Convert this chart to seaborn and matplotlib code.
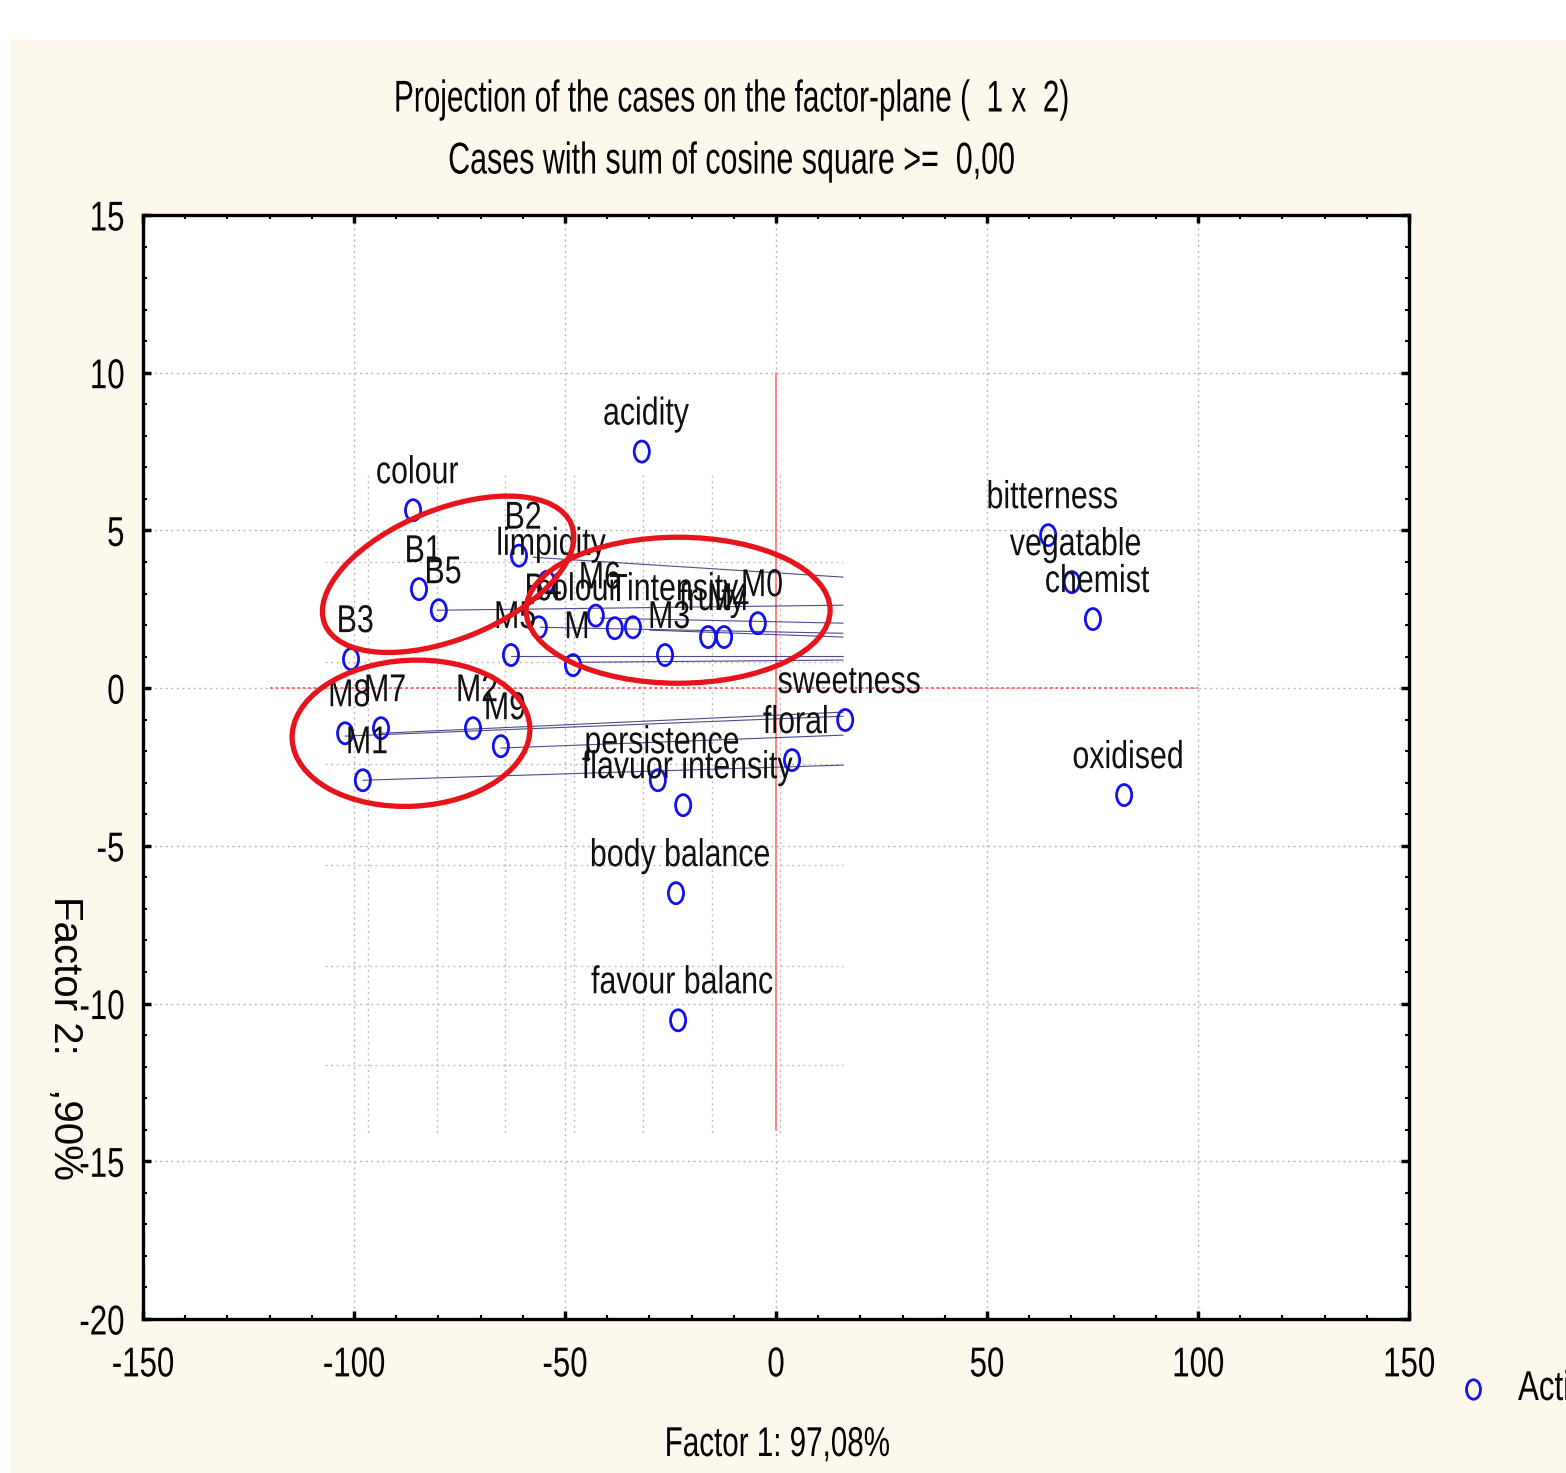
import numpy as np
import pandas as pd
import matplotlib
matplotlib.use("Agg")
import matplotlib.pyplot as plt
import seaborn as sns
from matplotlib.path import Path
from matplotlib.transforms import Affine2D, ScaledTranslation
from matplotlib.patches import Ellipse, Rectangle
from matplotlib.lines import Line2D
from matplotlib.patheffects import AbstractPathEffect

# --- data ---
labels = ["acidity", "colour", "B1", "B5", "B3", "B2", "limpidity", "B4", "M5",
          "M6", "T", "colour intensity", "M", "M3", "fruity", "M4", "M0",
          "M8", "M7", "M1", "M2", "M9",
          "sweetness", "floral", "persistence", "flavuor intensity",
          "body balance", "favour balanc",
          "bitterness", "vegatable", "chemist", "oxidised"]
factor1 = [-31.8, -86.0, -84.6, -79.9, -100.7, -60.9, -54.3, -56.2, -62.8,
           -42.7, -38.2, -33.9, -48.1, -26.3, -16.1, -12.3, -4.3,
           -102.1, -93.6, -97.9, -71.8, -65.2,
           16.4, 3.8, -28.0, -22.0,
           -23.7, -23.2,
           64.5, 70.1, 75.1, 82.5]
factor2 = [7.5, 5.64, 3.14, 2.47, 0.92, 4.2, 3.37, 1.93, 1.05,
           2.3, 1.9, 1.93, 0.73, 1.05, 1.62, 1.62, 2.06,
           -1.43, -1.27, -2.92, -1.27, -1.84,
           -1.01, -2.28, -2.92, -3.71,
           -6.5, -10.53,
           4.85, 3.36, 2.19, -3.39]

# faint leftover lines of the pasted picture
seg_x0 = [-57.6, -80.3, -41.7, -55.9, -29.9, -62.8, -46.4, -93.6, -102.1, -65.2, -97.9]
seg_y0 = [4.15, 2.47, 2.22, 1.93, 1.84, 1.01, 0.82, -1.43, -1.52, -1.90, -2.92]
seg_x1 = [15.9] * 11
seg_y1 = [3.52, 2.63, 2.06, 1.74, 1.62, 1.01, 0.89, -0.76, -0.89, -1.49, -2.44]
old_grid_x = [-96.8, -80.4, -64.2, -47.9, -31.5, -15.2, 0.9]
old_grid_y = [4.0, 0.82, -2.4, -5.6, -8.8, -11.95]

# red circles (centre in data units, size in pixels)
ell_cx = [-77.7, -23.2, -86.5]
ell_cy = [3.61, 2.47, -1.43]
ell_w = [266, 304, 238]
ell_h = [130, 146, 146]
ell_ang = [22, 0, 3]

df = pd.DataFrame({"label": labels, "f1": factor1, "f2": factor2})


class Squeeze(AbstractPathEffect):
    """narrow the text horizontally, like the condensed font of the original"""
    def __init__(self, sx, anchor="center"):
        super().__init__()
        self.sx = sx
        self.anchor = anchor

    def draw_path(self, renderer, gc, tpath, affine, rgbFace=None):
        ext = tpath.get_extents()
        if self.anchor == "left":
            cx = ext.x0
        elif self.anchor == "right":
            cx = ext.x1
        else:
            cx = (ext.x0 + ext.x1) / 2
        tr = Affine2D().translate(-cx, 0).scale(self.sx, 1).translate(cx, 0) + affine
        renderer.draw_path(gc, tpath, tr, rgbFace)


sns.set_theme(style="ticks")
plt.rcParams["font.family"] = ["Liberation Sans", "DejaVu Sans"]
plt.rcParams["axes.unicode_minus"] = False
plt.rcParams["text.color"] = "black"
plt.rcParams["xtick.color"] = "black"
plt.rcParams["ytick.color"] = "black"

W, H = 1566, 1473
fig = plt.figure(figsize=(W / 100, H / 100), dpi=100, facecolor="white")
fig.patches.append(Rectangle((10 / W, 0), 1, (H - 40) / H, transform=fig.transFigure,
                             facecolor="#fdf8ec", edgecolor="none", zorder=-5))
ax = fig.add_axes([143 / W, 154 / H, 1266 / W, 1104 / H])
ax.set_facecolor("white")
ax.set_xlim(-150, 150)
ax.set_ylim(-20, 15)

ax.set_xticks(np.arange(-150, 151, 50))
ax.set_yticks(np.arange(-20, 16, 5))
ax.set_xticks(np.arange(-150, 151, 10), minor=True)
ax.set_yticks(np.arange(-20, 16, 1), minor=True)
ax.grid(True, which="major", color="#b8b8b8", ls=(0, (1.5, 2.5)), lw=1.0)
ax.tick_params(which="both", direction="in", top=True, right=True)
ax.tick_params(which="major", length=6, width=2.5, labelsize=30, pad=19)
ax.tick_params(axis="y", which="major", pad=13)
ax.tick_params(which="minor", length=3, width=1.5)
for sp in ax.spines.values():
    sp.set_linewidth(2.4)
    sp.set_color("black")

# old grid left in the figure
for gx in old_grid_x:
    ax.plot([gx, gx], [6.75, -14.2], color="#c0c0c0", ls=(0, (1.5, 2.5)), lw=1.0, zorder=1)
for gy in old_grid_y:
    ax.plot([-106.9, 15.9], [gy, gy], color="#c0c0c0", ls=(0, (1.5, 2.5)), lw=1.0, zorder=1)

# red origin lines
ax.plot([-120, 100], [0, 0], color="#ff5a5a", ls=(0, (1.5, 1.5)), lw=1.3, zorder=2)
ax.plot([0, 0], [10, -14], color="#ff7a7a", lw=1.3, zorder=2)

for a, b, c, d in zip(seg_x0, seg_y0, seg_x1, seg_y1):
    ax.plot([a, c], [b, d], color="#2c2c7a", lw=0.8, alpha=0.85, zorder=2)

oval = Affine2D().scale(0.72, 1.0).transform_path(Path.unit_circle())
sns.scatterplot(data=df, x="f1", y="f2", marker=oval, s=230, ax=ax, zorder=4,
                legend=False)
pts = ax.collections[-1]
pts.set_facecolor("none")
pts.set_edgecolor("#1010f0")
pts.set_linewidth(2.0)

for lab, x, y in zip(labels, factor1, factor2):
    ax.annotate(lab, (x, y), xytext=(4, 37), textcoords="offset pixels",
                ha="center", va="center", fontsize=28, color="#111111", zorder=5,
                path_effects=[Squeeze(0.78)])

for cx, cy, w, h, a in zip(ell_cx, ell_cy, ell_w, ell_h, ell_ang):
    ax.add_patch(Ellipse((0, 0), w, h, angle=a, fill=False, ec="#e8141b", lw=3.8,
                         transform=ScaledTranslation(cx, cy, ax.transData), zorder=6))

ax.set_xlabel("")
ax.set_ylabel("")

fig.text(732 / W, 1 - 100 / H, "Projection of the cases on the factor-plane (  1 x  2)",
         ha="center", va="center", fontsize=32, path_effects=[Squeeze(0.67)])
fig.text(732 / W, 1 - 162 / H, "Cases with sum of cosine square >=  0,00",
         ha="center", va="center", fontsize=32, path_effects=[Squeeze(0.685)])
fig.text(777 / W, 1 - 1445 / H, "Factor 1: 97,08%", ha="center", va="center", fontsize=30,
         path_effects=[Squeeze(0.71)])
fig.text(65 / W, 1 - 1038 / H, "Factor 2:   ,90%", ha="center", va="center", fontsize=29,
         rotation=270)

# legend, cut off by the right edge as in the original
fig.add_artist(Line2D([1473 / W], [1 - 1389 / H], transform=fig.transFigure, ls="none",
                      marker=oval, markersize=14, markerfacecolor="none",
                      markeredgecolor="#1010f0", markeredgewidth=2.0))
fig.text(1518 / W, 1 - 1389 / H, "Active", ha="left", va="center", fontsize=30,
         path_effects=[Squeeze(0.75, "left")])

fig.canvas.draw()
for t in ax.get_xticklabels():
    t.set_path_effects([Squeeze(0.75)])
for t in ax.get_yticklabels():
    t.set_path_effects([Squeeze(0.75, "right")])

fig.savefig("out.png", dpi=100)
